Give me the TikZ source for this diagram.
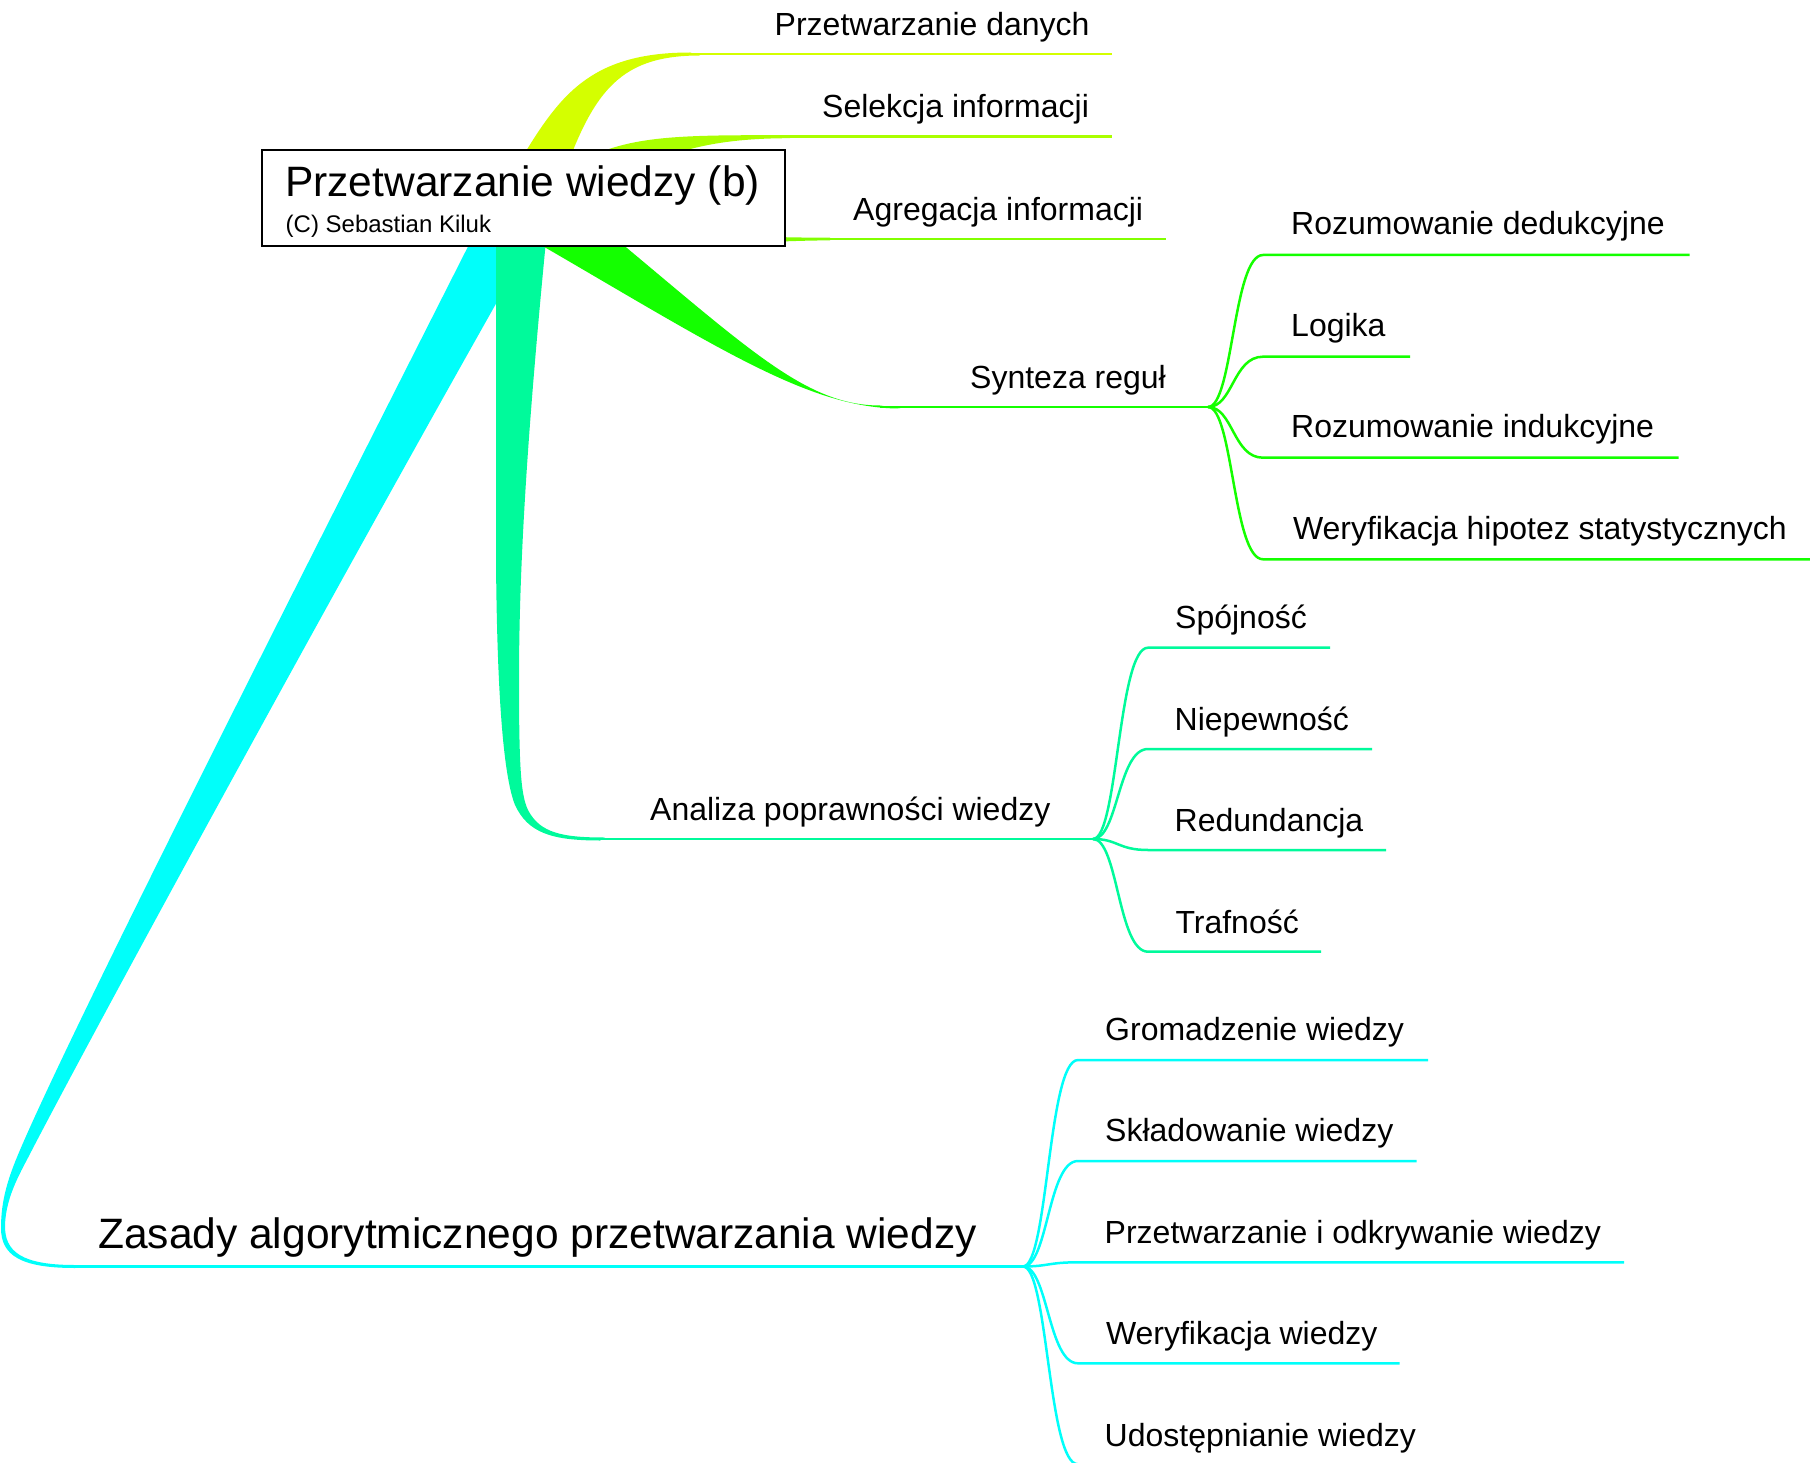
\documentclass[tikz,border=0pt]{standalone}
\usepackage{fontspec}
\setmainfont{Liberation Sans}
\definecolor{brA}{RGB}{212,255,0}
\definecolor{brB}{RGB}{170,255,0}
\definecolor{brC}{RGB}{130,255,0}
\definecolor{brD}{RGB}{20,255,0}
\definecolor{brE}{RGB}{0,250,155}
\definecolor{brF}{RGB}{0,255,250}
\begin{document}
\begin{tikzpicture}[x=1pt,y=-1pt,
  lone/.style={line width=2.7pt},
  ltwo/.style={line width=2.5pt},
  lab/.style={font=\fontsize{32}{38}\selectfont, inner sep=0pt, anchor=base west},
  biglab/.style={font=\fontsize{42.5}{50}\selectfont, inner sep=0pt, anchor=base west},
  smalllab/.style={font=\fontsize{24}{28}\selectfont, inner sep=0pt, anchor=base west},
  rootbox/.style={draw=black, line width=2.5pt, fill=white, rectangle, inner sep=0pt,
                  minimum width=523pt, minimum height=96pt},
  twig/.style={ltwo},
]
\useasboundingbox (0,0) rectangle (1810,1463);
\clip (0,0) rectangle (1810,1463);

% ---------- tapered main branches (drawn under the root box) ----------
% Zasady algorytmicznego przetwarzania wiedzy
\fill[brF] (490,203) .. controls (330,520) and (80,1010) .. (20,1150)
  .. controls (8,1178) and (1,1200) .. (1,1228)
  .. controls (1,1255) and (20,1268) .. (75,1268)
  -- (75,1265)
  .. controls (22,1265) and (4.5,1252) .. (5,1225)
  .. controls (6,1195) and (22,1170) .. (32,1150)
  .. controls (110,1000) and (400,470) .. (555,200) -- cycle;
% Analiza poprawnosci wiedzy
\fill[brE] (496,200) -- (496,560) .. controls (497,690) and (503,775) .. (515,805)
  .. controls (528,833) and (552,840.5) .. (600,840.5) -- (605,837.5)
  .. controls (562,837.5) and (540,833) .. (528,810)
  .. controls (521,795) and (519,770) .. (519,680)
  .. controls (519,560) and (528,420) .. (550,200) -- cycle;
% Synteza regul
\fill[brD] (480,210) .. controls (700,335) and (800,408.5) .. (900,408.5) -- (880,405.5)
  .. controls (800,405.5) and (740,340) .. (569,200) -- cycle;
% Agregacja informacji
\fill[brC] (560,200) .. controls (700,237.6) and (760,237.6) .. (830,237.6) -- (830,240.4)
  .. controls (760,240.4) and (700,250) .. (580,230) -- cycle;
% Selekcja informacji
\fill[brB] (540,190) .. controls (600,140) and (640,135.2) .. (760,135.2) -- (790,138.2)
  .. controls (690,138.2) and (640,160) .. (560,215) -- cycle;
% Przetwarzanie danych
\fill[brA] (496,200) .. controls (550,115) and (570,52.5) .. (690,52.5) -- (700,55.5)
  .. controls (615,55.5) and (590,95) .. (555,200) -- cycle;

% ---------- main branch lines ----------
\coordinate (aS) at (690,54);    \coordinate (aE) at (1112,54);
\coordinate (bS) at (760,136.7); \coordinate (bE) at (1112,136.7);
\coordinate (cS) at (820,239);   \coordinate (cE) at (1166,239);
\coordinate (dS) at (880,407);   \coordinate (fD) at (1208,407);
\coordinate (eS) at (600,839);   \coordinate (fE) at (1093,839);
\coordinate (gS) at (75,1266.5); \coordinate (fG) at (1023,1266.5);

\draw[brA, lone] (aS) -- (aE);
\draw[brB, lone] (bS) -- (bE);
\draw[brC, lone] (cS) -- (cE);
\draw[brD, lone] (dS) -- (fD);
\draw[brE, lone] (eS) -- (fE);
\draw[brF, lone] (gS) -- (fG);

% ---------- second level: Synteza regul ----------
\coordinate (d1) at (1263,255);   \coordinate (d1e) at (1689.6,255);
\coordinate (d2) at (1263,356.7); \coordinate (d2e) at (1410,356.7);
\coordinate (d3) at (1263,457.7); \coordinate (d3e) at (1678.6,457.7);
\coordinate (d4) at (1263,559.3); \coordinate (d4e) at (1815,559.3);
\foreach \c in {d1,d2,d3,d4}
  \draw[brD, twig] (fD) .. controls +(25,0) and +(-30,0) .. (\c) -- (\c e);

% ---------- second level: Analiza poprawnosci wiedzy ----------
\coordinate (e1) at (1148,647.7); \coordinate (e1e) at (1330,647.7);
\coordinate (e2) at (1148,749);   \coordinate (e2e) at (1372,749);
\coordinate (e3) at (1148,850);   \coordinate (e3e) at (1386,850);
\coordinate (e4) at (1148,951.7); \coordinate (e4e) at (1321,951.7);
\foreach \c in {e1,e2,e3,e4}
  \draw[brE, twig] (fE) .. controls +(25,0) and +(-30,0) .. (\c) -- (\c e);

% ---------- second level: Zasady algorytmicznego przetwarzania wiedzy ----------
\coordinate (g1) at (1078,1060);   \coordinate (g1e) at (1428,1060);
\coordinate (g2) at (1078,1161);   \coordinate (g2e) at (1416.5,1161);
\coordinate (g3) at (1078,1262.3); \coordinate (g3e) at (1624,1262.3);
\coordinate (g4) at (1078,1363.3); \coordinate (g4e) at (1399.5,1363.3);
\coordinate (g5) at (1078,1464.3); \coordinate (g5e) at (1420,1464.3);
\foreach \c in {g1,g2,g3,g4,g5}
  \draw[brF, twig] (fG) .. controls +(25,0) and +(-30,0) .. (\c) -- (\c e);

% ---------- root ----------
\node[rootbox] (root) at (523.5,198) {};
\node[biglab] (title) at (285,196.7) {Przetwarzanie wiedzy (b)};
\node[smalllab] (author) at (285.5,232.3) {(C) Sebastian Kiluk};

% ---------- labels ----------
\node[lab] (tA) at (774.5,36) {Przetwarzanie danych};
\node[lab] (tB) at (822,117.3) {Selekcja informacji};
\node[lab] (tC) at (853,220.7) {Agregacja informacji};
\node[lab] (tD) at (970,388) {Synteza reguł};
\node[lab] (tE) at (650,820) {Analiza poprawności wiedzy};
\node[biglab] (tG) at (98,1248.3) {Zasady algorytmicznego przetwarzania wiedzy};

\node[lab] (tD1) at (1291,235) {Rozumowanie dedukcyjne};
\node[lab] (tD2) at (1291,336.7) {Logika};
\node[lab] (tD3) at (1291,437.7) {Rozumowanie indukcyjne};
\node[lab] (tD4) at (1292.8,539.3) {Weryfikacja hipotez statystycznych};

\node[lab] (tE1) at (1175,628) {Spójność};
\node[lab] (tE2) at (1174.5,730) {Niepewność};
\node[lab] (tE3) at (1174.5,831.5) {Redundancja};
\node[lab] (tE4) at (1175.3,933) {Trafność};

\node[lab] (tG1) at (1105,1040.5) {Gromadzenie wiedzy};
\node[lab] (tG2) at (1105,1141.5) {Składowanie wiedzy};
\node[lab] (tG3) at (1104.5,1243) {Przetwarzanie i odkrywanie wiedzy};
\node[lab] (tG4) at (1105.8,1344.5) {Weryfikacja wiedzy};
\node[lab] (tG5) at (1104.5,1446) {Udostępnianie wiedzy};
\end{tikzpicture}
\end{document}
